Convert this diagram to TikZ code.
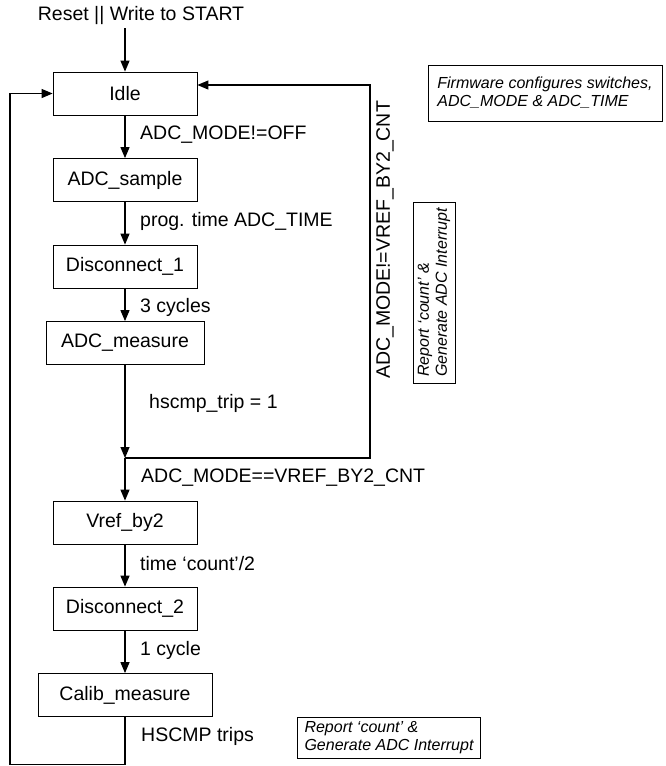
\documentclass[tikz,border=0pt]{standalone}
\usepackage{fontspec}
\setmainfont{Liberation Sans}
\usetikzlibrary{arrows.meta}

\tikzset{
  state/.style={draw, line width=0.8pt, minimum width=144pt, minimum height=43pt,
    inner sep=0pt, font=\fontsize{19.5}{22}\selectfont},
  cond/.style={anchor=west, inner sep=0pt, font=\fontsize{19.5}{22}\selectfont},
  note/.style={draw, line width=0.8pt, align=left, inner sep=0pt,
    font=\fontsize{16}{18}\selectfont\itshape},
  flow/.style={line width=1.2pt, -{Triangle[length=11pt,width=9pt]}},
}

\begin{document}
\begin{tikzpicture}[x=1pt,y=-1pt]
\useasboundingbox (0,0) rectangle (665,766);
% states:
\node[cond, anchor=center] (reset) at (141,15) {Reset || Write to START};
\node[state] (idle) at (125,93.5) {Idle};
\node[state] (sample) at (125,180) {ADC\_sample};
\node[state] (disc1) at (125,266.5) {Disconnect\_1};
\node[state, minimum width=158pt] (measure) at (125,343) {ADC\_measure};
\node[state] (vref) at (125,522.5) {Vref\_by2};
\node[state] (disc2) at (125,608.5) {Disconnect\_2};
\node[state, minimum width=174pt] (calib) at (125,695) {Calib\_measure};
\coordinate (junc) at (125,458);
\coordinate (rt) at (370,458);
\coordinate (lb) at (10,764.5);
% transitions:
\draw[flow] (idle.north |- 0,28) -- (idle.north);
\draw[flow] (idle) -- (sample);
\draw[flow] (sample) -- (disc1);
\draw[flow] (disc1) -- (measure);
\draw[flow] (measure) -- (junc);
\draw[flow] (junc) -- (rt) |- ([yshift=8.5pt]idle.east);
\draw[flow] (junc) -- (vref);
\draw[flow] (vref) -- (disc2);
\draw[flow] (disc2) -- (calib);
\draw[flow] (calib) -- (calib |- lb) -- (lb) |- (idle.west);
% conditions:
\node[cond] (c1) at (140,135) {ADC\_MODE!=OFF};
\node[cond] (c2) at (140,221) {prog. time ADC\_TIME};
\node[cond] (c3) at (140,307) {3 cycles};
\node[cond] (c4) at (149,403) {hscmp\_trip = 1};
\node[cond, rotate=90, anchor=center] (c5) at (385,240) {ADC\_MODE!=VREF\_BY2\_CNT};
\node[cond] (c6) at (141,478) {ADC\_MODE==VREF\_BY2\_CNT};
\node[cond] (c7) at (140,564) {time ‘count’/2};
\node[cond] (c8) at (140,650) {1 cycle};
\node[cond] (c9) at (141,736) {HSCMP trips};
% notes:
\node[note, minimum width=234pt, minimum height=56pt] (fw) at (545,93) {Firmware configures switches,\\ADC\_MODE \& ADC\_TIME};
\node[note, minimum width=181pt, minimum height=42pt, rotate=90] (rep1) at (434,292.5) {Report ‘count’ \&\\Generate ADC Interrupt};
\node[note, minimum width=183pt, minimum height=41pt] (rep2) at (389,737.5) {Report ‘count’ \&\\Generate ADC Interrupt};
\end{tikzpicture}
\end{document}
